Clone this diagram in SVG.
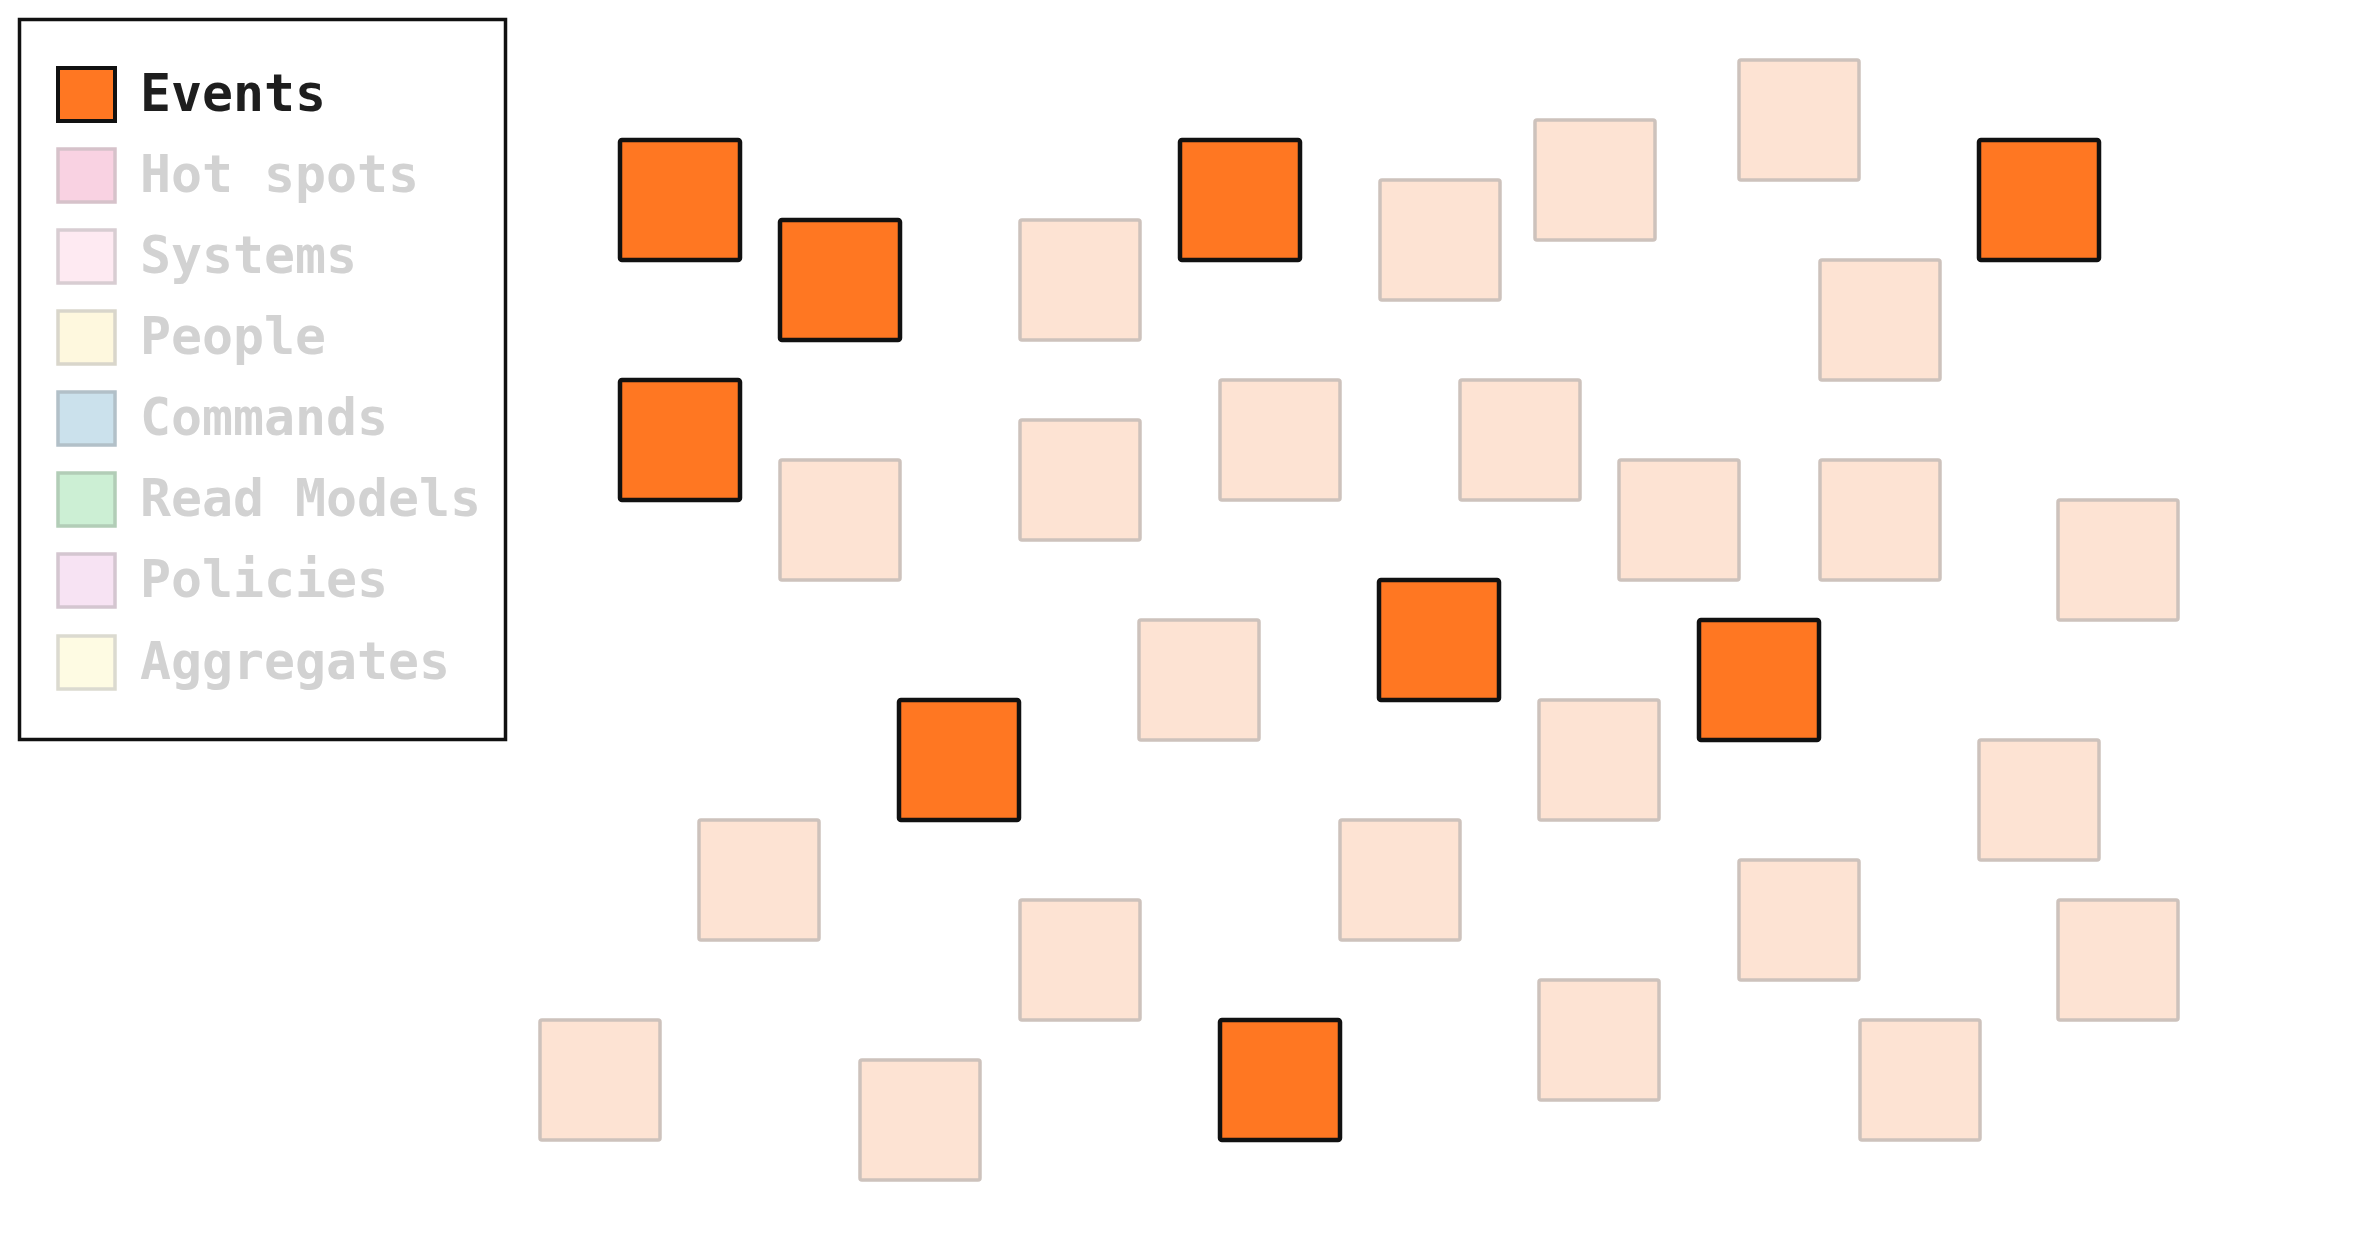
<svg xmlns="http://www.w3.org/2000/svg" width="2353" height="1248" viewBox="0 0 2353 1248">
<style>
.ev{fill:#ff7722;stroke:#111;stroke-width:4.5;stroke-linejoin:round}
.pe{fill:#fde3d3;stroke:#cdc2bc;stroke-width:3.5;stroke-linejoin:round}
.lt{font-family:"DejaVu Sans Mono","Liberation Mono",monospace;font-size:51.5px;font-weight:bold;fill:#d2d2d2}
.lb{fill:none;stroke:#111;stroke-width:3.5}
</style>
<rect width="2353" height="1248" fill="#fff"/>
<g id="legend">
<rect class="lb" x="19.5" y="19.5" width="486" height="720"/>
<g id="legend-events"><rect x="58" y="68" width="57" height="53" fill="#ff7722" stroke="#111" stroke-width="4"/><text class="lt" x="140" y="111" style="fill:#1e1e1e">Events</text></g>
<g id="legend-hotspots"><rect x="58" y="149" width="57" height="53" fill="#f9d2e2" stroke="#d6c2ca" stroke-width="3.5"/><text class="lt" x="140" y="192">Hot spots</text></g>
<g id="legend-systems"><rect x="58" y="230" width="57" height="53" fill="#feeaf2" stroke="#d8cdd2" stroke-width="3.5"/><text class="lt" x="140" y="273">Systems</text></g>
<g id="legend-people"><rect x="58" y="311" width="57" height="53" fill="#fef8de" stroke="#d9d6cb" stroke-width="3.5"/><text class="lt" x="140" y="354">People</text></g>
<g id="legend-commands"><rect x="58" y="392" width="57" height="53" fill="#cbe1ec" stroke="#b2c0c8" stroke-width="3.5"/><text class="lt" x="140" y="435">Commands</text></g>
<g id="legend-readmodels"><rect x="58" y="473" width="57" height="53" fill="#ccefd4" stroke="#b2cdb7" stroke-width="3.5"/><text class="lt" x="140" y="516">Read Models</text></g>
<g id="legend-policies"><rect x="58" y="554" width="57" height="53" fill="#f7e3f3" stroke="#d4c6d0" stroke-width="3.5"/><text class="lt" x="140" y="597">Policies</text></g>
<g id="legend-aggregates"><rect x="58" y="636" width="57" height="53" fill="#fefbe3" stroke="#dbdad0" stroke-width="3.5"/><text class="lt" x="140" y="679">Aggregates</text></g>
</g>
<g id="events">
<rect id="e1" class="ev" x="620" y="140" width="120" height="120" rx="2"/>
<rect id="e2" class="ev" x="780" y="220" width="120" height="120" rx="2"/>
<rect id="e3" class="ev" x="1180" y="140" width="120" height="120" rx="2"/>
<rect id="e4" class="ev" x="1979" y="140" width="120" height="120" rx="2"/>
<rect id="e5" class="ev" x="620" y="380" width="120" height="120" rx="2"/>
<rect id="e6" class="ev" x="1379" y="580" width="120" height="120" rx="2"/>
<rect id="e7" class="ev" x="1699" y="620" width="120" height="120" rx="2"/>
<rect id="e8" class="ev" x="899" y="700" width="120" height="120" rx="2"/>
<rect id="e9" class="ev" x="1220" y="1020" width="120" height="120" rx="2"/>
</g>
<g id="pale">
<rect id="p1" class="pe" x="1020" y="220" width="120" height="120" rx="2"/>
<rect id="p2" class="pe" x="1380" y="180" width="120" height="120" rx="2"/>
<rect id="p3" class="pe" x="1535" y="120" width="120" height="120" rx="2"/>
<rect id="p4" class="pe" x="1739" y="60" width="120" height="120" rx="2"/>
<rect id="p5" class="pe" x="1820" y="260" width="120" height="120" rx="2"/>
<rect id="p6" class="pe" x="780" y="460" width="120" height="120" rx="2"/>
<rect id="p7" class="pe" x="1020" y="420" width="120" height="120" rx="2"/>
<rect id="p8" class="pe" x="1220" y="380" width="120" height="120" rx="2"/>
<rect id="p9" class="pe" x="1460" y="380" width="120" height="120" rx="2"/>
<rect id="p10" class="pe" x="1619" y="460" width="120" height="120" rx="2"/>
<rect id="p11" class="pe" x="1820" y="460" width="120" height="120" rx="2"/>
<rect id="p12" class="pe" x="2058" y="500" width="120" height="120" rx="2"/>
<rect id="p13" class="pe" x="1139" y="620" width="120" height="120" rx="2"/>
<rect id="p14" class="pe" x="1539" y="700" width="120" height="120" rx="2"/>
<rect id="p15" class="pe" x="1979" y="740" width="120" height="120" rx="2"/>
<rect id="p16" class="pe" x="699" y="820" width="120" height="120" rx="2"/>
<rect id="p17" class="pe" x="1340" y="820" width="120" height="120" rx="2"/>
<rect id="p18" class="pe" x="1020" y="900" width="120" height="120" rx="2"/>
<rect id="p19" class="pe" x="1739" y="860" width="120" height="120" rx="2"/>
<rect id="p20" class="pe" x="2058" y="900" width="120" height="120" rx="2"/>
<rect id="p21" class="pe" x="540" y="1020" width="120" height="120" rx="2"/>
<rect id="p22" class="pe" x="860" y="1060" width="120" height="120" rx="2"/>
<rect id="p23" class="pe" x="1539" y="980" width="120" height="120" rx="2"/>
<rect id="p24" class="pe" x="1860" y="1020" width="120" height="120" rx="2"/>
</g>
<g id="connectors"/>
</svg>
